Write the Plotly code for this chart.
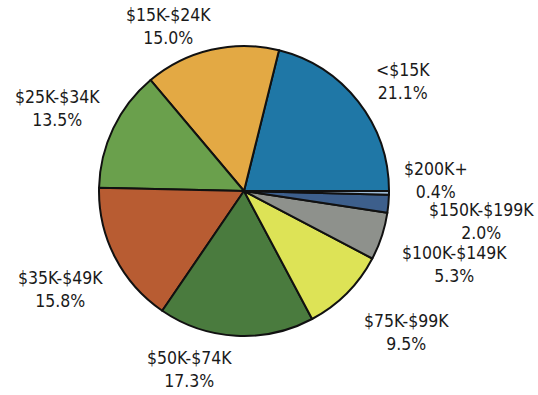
import plotly.graph_objects as go

# Household income distribution (% of households)
categories = ["<$15K", "$15K-$24K", "$25K-$34K", "$35K-$49K", "$50K-$74K",
              "$75K-$99K", "$100K-$149K", "$150K-$199K", "$200K+"]
shares = [21.1, 15.0, 13.5, 15.8, 17.3, 9.5, 5.3, 2.0, 0.4]
colors = ["#1f77a6", "#e3a944", "#6aa04c", "#b85c32", "#4a7b3e",
          "#dde356", "#8e918c", "#3d5f8c", "#9dbad6"]

W, H = 538, 395
cx, cy, r = 244, 191, 145

# label centres in pixels
label_px = {
    "<$15K": (403, 81),
    "$15K-$24K": (168, 26),
    "$25K-$34K": (57, 108),
    "$35K-$49K": (60, 289),
    "$50K-$74K": (189, 369),
    "$75K-$99K": (406, 332),
    "$100K-$149K": (454, 264),
    "$150K-$199K": (481, 221),
    "$200K+": (436, 180),
}

# In counterclockwise mode plotly lays the first slice clockwise of the
# rotation angle, so offset by the first slice to start it at 3 o'clock.
first_deg = shares[0] / sum(shares) * 360
rotation = 90 - first_deg

fig = go.Figure(go.Pie(
    labels=categories,
    values=shares,
    sort=False,
    direction="counterclockwise",
    rotation=rotation,
    marker=dict(colors=colors, line=dict(color="#111111", width=2)),
    textinfo="none",
    hoverinfo="label+percent",
    showlegend=False,
    domain=dict(x=[(cx - r) / W, (cx + r) / W],
                y=[1 - (cy + r) / H, 1 - (cy - r) / H]),
))

font_family = "DejaVu Sans Condensed, Arial Narrow, sans-serif"
for cat, val in zip(categories, shares):
    px, py = label_px[cat]
    fig.add_annotation(
        x=px / W, y=1 - py / H, xref="paper", yref="paper",
        text=f"{cat}<br>{val:.1f}%", showarrow=False,
        font=dict(family=font_family, size=17.5, color="#1a1a1a"),
        align="center", xanchor="center", yanchor="middle",
    )

fig.update_layout(
    width=W, height=H,
    margin=dict(l=0, r=0, t=0, b=0),
    paper_bgcolor="white",
    plot_bgcolor="white",
)

fig.write_html("out.html")
